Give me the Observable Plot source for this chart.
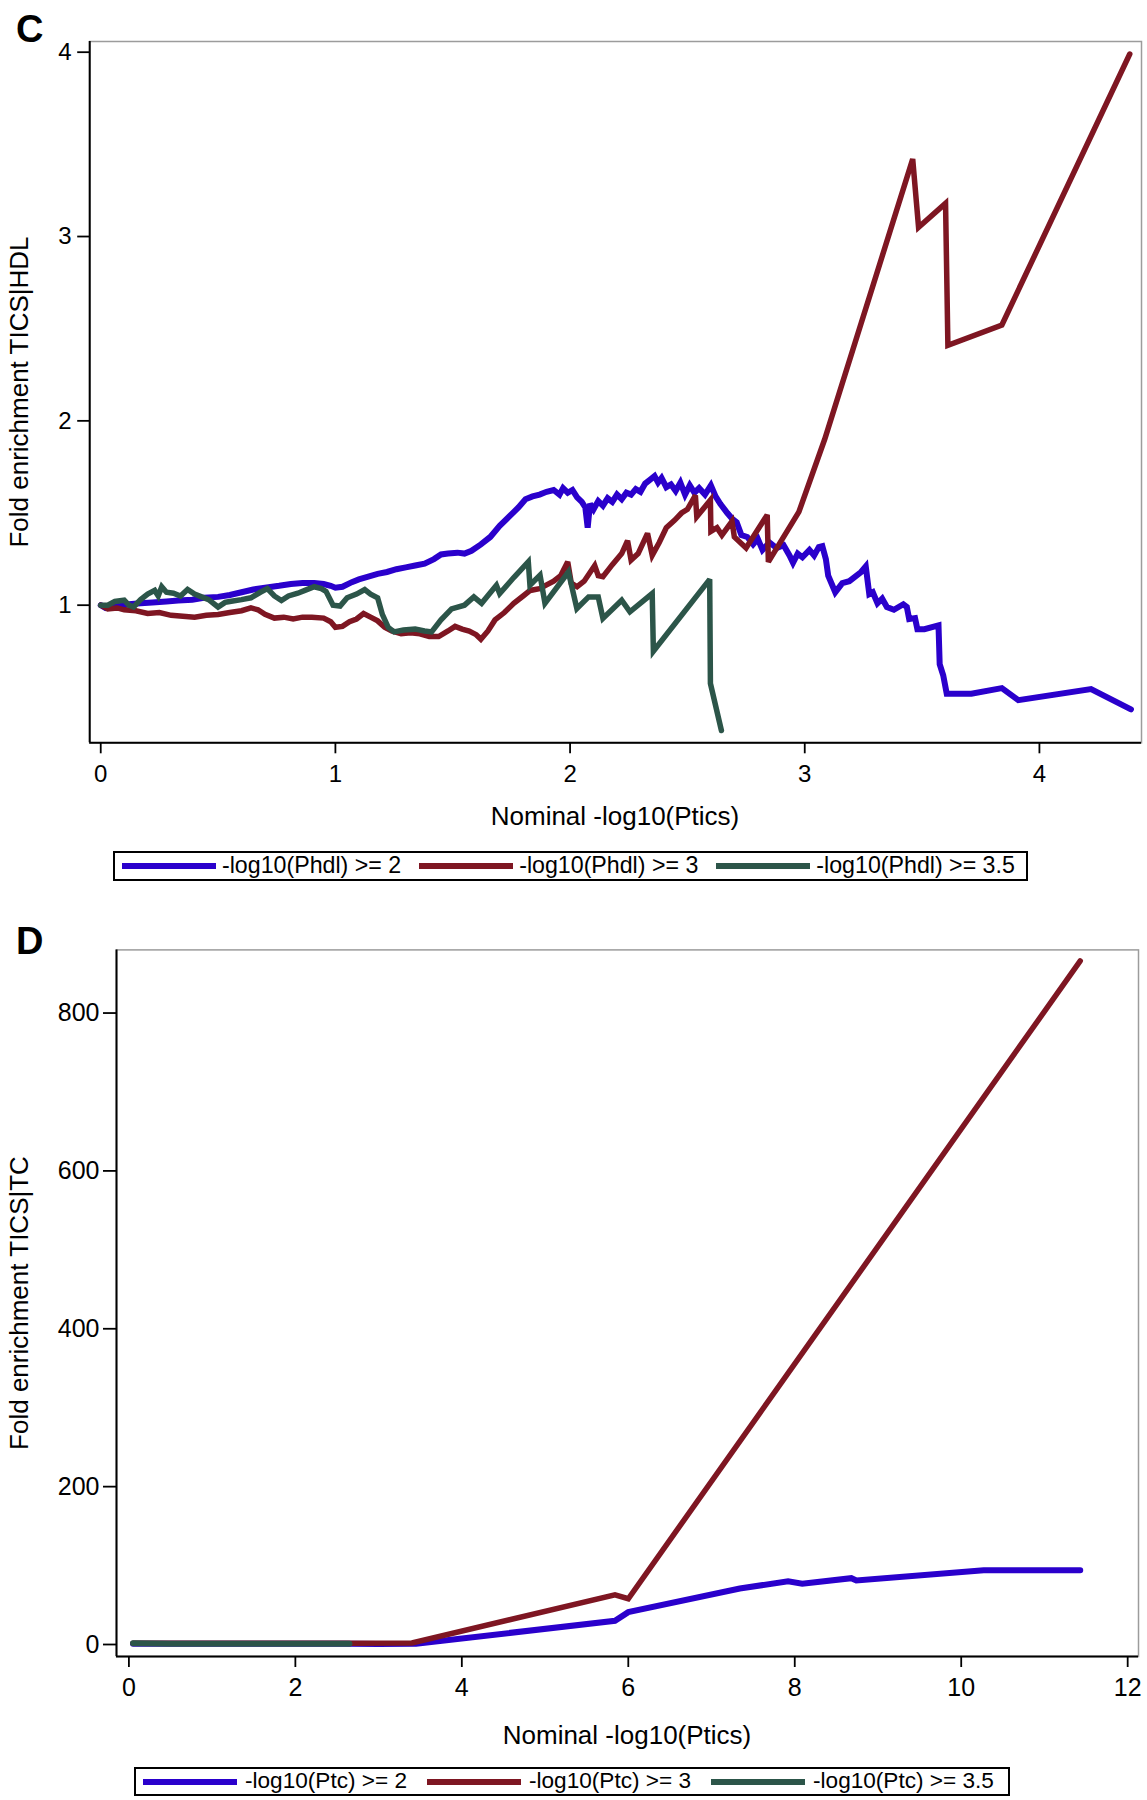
<!DOCTYPE html>
<html><head><meta charset="utf-8">
<script src="https://cdn.jsdelivr.net/npm/d3@7"></script>
<script src="https://cdn.jsdelivr.net/npm/@observablehq/plot@0.6"></script>
<style>
body{margin:0;background:#fff;font-family:"Liberation Sans",Arial,sans-serif;color:#000;}
#root{position:relative;width:1147px;height:1800px;overflow:hidden;background:#fff;}
.abs{position:absolute;line-height:1;white-space:nowrap;}
.panel{font-weight:bold;font-size:38px;}
.atitle{font-size:26px;}
.legend{position:absolute;border:2px solid #000;box-sizing:border-box;display:flex;align-items:center;padding-left:7px;line-height:1;white-space:nowrap;}
.legend .sw{width:94px;height:6px;flex:none;}
</style></head><body><div id="root"></div>
<script>
// ---------- Panel C data : [nominal -log10(Ptics), fold enrichment] ----------
const cBlue = [[0.00,1.00],[0.02,0.985],[0.05,1.00],[0.08,0.995],[0.12,1.005],[0.17,1.01],[0.22,1.015],[0.28,1.02],[0.33,1.025],[0.39,1.03],[0.44,1.04],[0.50,1.045],[0.55,1.055],[0.60,1.07],[0.65,1.085],[0.70,1.095],[0.76,1.105],[0.81,1.115],[0.86,1.12],[0.91,1.12],[0.95,1.115],[0.98,1.105],[1.00,1.095],[1.03,1.10],[1.07,1.125],[1.10,1.14],[1.14,1.155],[1.18,1.17],[1.22,1.18],[1.26,1.195],[1.30,1.205],[1.34,1.215],[1.38,1.225],[1.42,1.25],[1.45,1.275],[1.48,1.28],[1.52,1.285],[1.55,1.28],[1.58,1.295],[1.62,1.33],[1.66,1.37],[1.70,1.43],[1.74,1.48],[1.78,1.53],[1.81,1.575],[1.84,1.59],[1.87,1.60],[1.90,1.615],[1.93,1.625],[1.955,1.60],[1.97,1.635],[1.99,1.61],[2.01,1.625],[2.03,1.585],[2.05,1.56],[2.065,1.53],[2.075,1.42],[2.085,1.55],[2.10,1.52],[2.12,1.565],[2.14,1.54],[2.16,1.58],[2.18,1.56],[2.20,1.60],[2.22,1.575],[2.24,1.61],[2.26,1.60],[2.28,1.63],[2.30,1.615],[2.32,1.66],[2.34,1.68],[2.36,1.70],[2.375,1.665],[2.39,1.69],[2.41,1.64],[2.43,1.655],[2.45,1.62],[2.47,1.665],[2.49,1.60],[2.51,1.65],[2.53,1.61],[2.55,1.635],[2.575,1.60],[2.60,1.65],[2.62,1.59],[2.64,1.55],[2.67,1.50],[2.69,1.47],[2.71,1.45],[2.73,1.38],[2.755,1.37],[2.78,1.33],[2.80,1.36],[2.82,1.30],[2.85,1.34],[2.88,1.31],[2.91,1.325],[2.935,1.27],[2.95,1.23],[2.97,1.28],[2.99,1.26],[3.02,1.30],[3.04,1.27],[3.06,1.315],[3.075,1.32],[3.09,1.25],[3.10,1.16],[3.13,1.07],[3.16,1.12],[3.19,1.13],[3.24,1.18],[3.26,1.21],[3.275,1.06],[3.29,1.07],[3.31,1.01],[3.33,1.035],[3.35,0.99],[3.38,0.975],[3.42,1.005],[3.435,0.99],[3.445,0.925],[3.47,0.93],[3.48,0.87],[3.51,0.87],[3.57,0.89],[3.575,0.68],[3.59,0.62],[3.605,0.52],[3.71,0.52],[3.84,0.55],[3.91,0.485],[4.22,0.545],[4.39,0.435]];
const cRed = [[0.00,1.00],[0.03,0.98],[0.07,0.985],[0.10,0.975],[0.15,0.97],[0.20,0.955],[0.25,0.96],[0.30,0.945],[0.35,0.94],[0.40,0.935],[0.45,0.945],[0.50,0.95],[0.55,0.96],[0.60,0.97],[0.64,0.985],[0.67,0.975],[0.70,0.95],[0.74,0.93],[0.78,0.935],[0.82,0.925],[0.86,0.935],[0.90,0.935],[0.95,0.93],[0.98,0.91],[1.00,0.88],[1.03,0.885],[1.06,0.91],[1.09,0.925],[1.12,0.955],[1.15,0.935],[1.18,0.915],[1.21,0.88],[1.24,0.86],[1.28,0.845],[1.32,0.85],[1.36,0.845],[1.40,0.83],[1.44,0.83],[1.48,0.86],[1.51,0.885],[1.54,0.87],[1.57,0.86],[1.60,0.84],[1.62,0.815],[1.65,0.86],[1.68,0.92],[1.72,0.96],[1.76,1.01],[1.80,1.05],[1.83,1.08],[1.87,1.09],[1.90,1.11],[1.93,1.13],[1.96,1.16],[1.99,1.235],[2.005,1.12],[2.03,1.10],[2.06,1.13],[2.105,1.215],[2.12,1.16],[2.14,1.155],[2.18,1.22],[2.22,1.28],[2.245,1.35],[2.26,1.245],[2.29,1.28],[2.33,1.39],[2.35,1.27],[2.38,1.34],[2.41,1.42],[2.445,1.46],[2.475,1.50],[2.50,1.52],[2.534,1.596],[2.54,1.48],[2.598,1.57],[2.60,1.40],[2.626,1.42],[2.647,1.38],[2.69,1.455],[2.70,1.37],[2.75,1.31],[2.84,1.49],[2.845,1.235],[2.975,1.506],[3.085,1.90],[3.46,3.42],[3.485,3.05],[3.60,3.18],[3.61,2.41],[3.84,2.52],[4.385,3.99]];
const cGreen = [[0.00,1.00],[0.03,1.00],[0.06,1.02],[0.10,1.027],[0.12,1.00],[0.14,0.99],[0.17,1.03],[0.20,1.06],[0.23,1.08],[0.245,1.05],[0.26,1.10],[0.28,1.07],[0.31,1.065],[0.34,1.05],[0.37,1.085],[0.40,1.06],[0.43,1.045],[0.46,1.03],[0.50,0.99],[0.53,1.015],[0.55,1.02],[0.60,1.03],[0.64,1.04],[0.68,1.07],[0.71,1.09],[0.74,1.05],[0.77,1.025],[0.80,1.05],[0.84,1.065],[0.87,1.08],[0.91,1.10],[0.94,1.09],[0.96,1.075],[0.99,1.00],[1.02,0.995],[1.05,1.04],[1.09,1.06],[1.125,1.085],[1.15,1.06],[1.18,1.04],[1.20,0.95],[1.225,0.88],[1.25,0.855],[1.29,0.865],[1.34,0.87],[1.38,0.86],[1.41,0.855],[1.45,0.92],[1.495,0.98],[1.55,1.00],[1.59,1.045],[1.623,1.01],[1.686,1.108],[1.70,1.063],[1.76,1.15],[1.822,1.235],[1.829,1.108],[1.872,1.163],[1.893,1.01],[1.993,1.18],[2.029,0.982],[2.079,1.045],[2.12,1.045],[2.14,0.928],[2.22,1.027],[2.255,0.964],[2.35,1.063],[2.355,0.75],[2.595,1.14],[2.598,0.576],[2.645,0.32]];
const cXTicks = [0, 1, 2, 3, 4];
const cYTicks = [1, 2, 3, 4];
const cXDomain = [-0.047, 4.435];
const cYDomain = [0.2534, 4.058];
const cLegend = ["-log10(Phdl) >= 2", "-log10(Phdl) >= 3", "-log10(Phdl) >= 3.5"];

// ---------- Panel D data ----------
const dBlue = [[0.05,1],[2.6,1],[3.0,0.5],[3.45,1],[5.84,30],[6.0,41],[7.34,71],[7.92,80],[8.09,77],[8.68,84],[8.74,81],[10.27,94],[11.43,94]];
const dRed = [[0.05,1.5],[2.65,1.5],[3.40,2],[5.84,63],[6.0,58],[11.43,866]];
const dGreen = [[0.05,1.5],[0.5,1],[2.3,1],[2.65,1]];
const dXTicks = [0, 2, 4, 6, 8, 10, 12];
const dYTicks = [0, 200, 400, 600, 800];
const dXDomain = [-0.149, 12.13];
const dYDomain = [-15.2, 880];
const dLegend = ["-log10(Ptc) >= 2", "-log10(Ptc) >= 3", "-log10(Ptc) >= 3.5"];

const seriesColors = ["#2a00cc", "#7e1622", "#2c5549"];
const FONT = '"Liberation Sans", Arial, sans-serif';

const root = document.getElementById("root");

function place(el, top, left) {
  el.style.position = "absolute";
  el.style.top = top + "px";
  el.style.left = left + "px";
  root.appendChild(el);
  return el;
}

function text(str, cls, top, left, extra) {
  const d = document.createElement("div");
  d.className = "abs " + cls;
  d.textContent = str;
  d.style.top = top + "px";
  d.style.left = left + "px";
  if (extra) Object.assign(d.style, extra);
  root.appendChild(d);
  return d;
}

function panel(cfg) {
  const [b, r, g] = cfg.series;
  const lineOpts = (i) => ({stroke: seriesColors[i], strokeWidth: cfg.sw[i], strokeLinejoin: "miter", strokeMiterlimit: 3});
  const p = Plot.plot({
    width: 1147,
    height: cfg.height,
    marginLeft: cfg.ml, marginRight: cfg.mr, marginTop: cfg.mt, marginBottom: cfg.mb,
    style: {fontFamily: FONT, fontSize: cfg.fs + "px", color: "black", background: "transparent", overflow: "visible"},
    x: {domain: cfg.xd, ticks: cfg.xt},
    y: {domain: cfg.yd, ticks: cfg.yt},
    marks: [
      Plot.frame({stroke: "#9c9c9c", strokeWidth: 1.5}),
      Plot.ruleX([cfg.xd[0]], {stroke: "black", strokeWidth: 2}),
      Plot.ruleY([cfg.yd[0]], {stroke: "black", strokeWidth: 2}),
      Plot.axisX(cfg.xt, {tickSize: cfg.xTickSize, tickPadding: cfg.xPad, fontSize: cfg.fs, stroke: "black", strokeWidth: 1.8, label: null, tickFormat: d => String(d)}),
      Plot.axisY(cfg.yt, {tickSize: cfg.yTickSize, tickPadding: cfg.yPad, fontSize: cfg.fs, stroke: "black", strokeWidth: 1.8, label: null, tickFormat: d => String(d)}),
      Plot.line(b, lineOpts(0)),
      Plot.line(r, lineOpts(1)),
      Plot.line(g, lineOpts(2))
    ]
  });
  place(p, cfg.top, 0);
}

function legend(labels, top, left, width, height, fontSize, swGap, gap) {
  const box = document.createElement("div");
  box.className = "legend";
  box.style.top = top + "px";
  box.style.left = left + "px";
  box.style.width = width + "px";
  box.style.height = height + "px";
  box.style.fontSize = fontSize + "px";
  labels.forEach((lab, i) => {
    const sw = document.createElement("span");
    sw.className = "sw";
    sw.style.background = seriesColors[i];
    sw.style.marginRight = swGap + "px";
    const t = document.createElement("span");
    t.textContent = lab;
    t.style.marginRight = gap + "px";
    box.appendChild(sw);
    box.appendChild(t);
  });
  root.appendChild(box);
}

// Panel C
panel({top: 0, height: 850, ml: 89.2, mr: 6, mt: 41, mb: 107.7, xd: cXDomain, yd: cYDomain, xt: cXTicks, yt: cYTicks,
  fs: 24, xTickSize: 11, xPad: 11, yTickSize: 12, yPad: 6, sw: [6, 5.5, 5.5], series: [cBlue, cRed, cGreen]});
text("C", "panel", 10, 16);
text("Nominal -log10(Ptics)", "atitle", 803, 615, {transform: "translateX(-50%)"});
text("Fold enrichment TICS|HDL", "atitle", 392 - 13, 18.5, {transform: "translate(-50%,0) rotate(-90deg)", transformOrigin: "50% 50%"});
legend(cLegend, 851, 113, 915, 30, 23.2, 6, 18);

// Panel D
panel({top: 890, height: 870, ml: 116, mr: 9, mt: 59.4, mb: 104, xd: dXDomain, yd: dYDomain, xt: dXTicks, yt: dYTicks,
  fs: 25, xTickSize: 11, xPad: 11, yTickSize: 13, yPad: 4, sw: [6, 5.5, 6], series: [dBlue, dRed, dGreen]});
text("D", "panel", 922, 16);
text("Nominal -log10(Ptics)", "atitle", 1722, 627, {transform: "translateX(-50%)"});
text("Fold enrichment TICS|TC", "atitle", 1303 - 13, 18.5, {transform: "translate(-50%,0) rotate(-90deg)", transformOrigin: "50% 50%"});
legend(dLegend, 1767, 134, 876, 29, 22.6, 8, 20);
</script></body></html>
